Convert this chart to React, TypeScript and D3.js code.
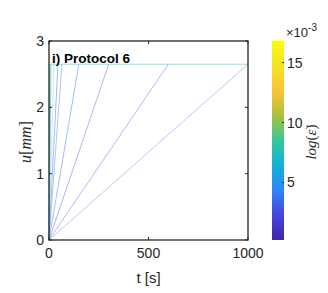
import * as d3 from "d3";
import React, { useEffect, useRef } from "react";

// end time of each ramp (s); all ramps reach uMax then hold
const rampEnds = [4, 10, 25, 45, 65, 150, 300, 600, 1000];
const rampColors = ["#3fc98e", "#4cc3c4", "#a9dcf2", "#6aa6f2", "#82b0f2", "#78a2f4", "#8a98f6", "#9a9af7", "#a8a8f9"];
const uMax = 2.65;
const tMax = 1000;
const xTicks = [0, 500, 1000];
const yTicks = [0, 1, 2, 3];
const cbarTicks = [5, 10, 15];
const cbarDomain = [0.2, 16.8];
const parula = ["#3e26a8", "#4742e0", "#2e87f7", "#12b1d6", "#37c899", "#acbf3a", "#fec238", "#f4e51f", "#f9fb15"];

const App = () => {
  const ref = useRef(null);

  useEffect(() => {
    const svg = d3.select(ref.current);
    svg.selectAll("*").remove();

    const left = 49, right = 248, top = 41, bottom = 240;
    const x = d3.scaleLinear().domain([0, tMax]).range([left, right]);
    const y = d3.scaleLinear().domain([0, 3]).range([bottom, top]);
    const font = "Liberation Sans, Arial, sans-serif";
    const serif = "Liberation Serif, DejaVu Serif, serif";

    const line = d3.line().x((d) => x(d[0])).y((d) => y(d[1]));
    const g = svg.append("g");
    // hold segment at uMax, then ramps
    g.append("line")
      .attr("x1", x(rampEnds[0])).attr("x2", x(tMax))
      .attr("y1", y(uMax)).attr("y2", y(uMax))
      .attr("stroke", "#8fe0e0").attr("stroke-width", 1);
    rampEnds.forEach((te, i) => {
      g.append("path")
        .attr("d", line([[0, 0], [te, uMax]]))
        .attr("fill", "none")
        .attr("stroke", rampColors[i])
        .attr("stroke-width", 0.7);
    });

    // frame
    svg.append("rect")
      .attr("x", left).attr("y", top)
      .attr("width", right - left).attr("height", bottom - top)
      .attr("fill", "none").attr("stroke", "#262626").attr("stroke-width", 1.3);

    const tl = 3;
    xTicks.forEach((t) => {
      svg.append("line").attr("x1", x(t)).attr("x2", x(t)).attr("y1", bottom).attr("y2", bottom - tl).attr("stroke", "#262626");
      svg.append("line").attr("x1", x(t)).attr("x2", x(t)).attr("y1", top).attr("y2", top + tl).attr("stroke", "#262626");
      svg.append("text").attr("x", x(t)).attr("y", bottom + 18).attr("text-anchor", "middle")
        .attr("font-family", font).attr("font-size", 14).attr("fill", "#262626").text(t);
    });
    yTicks.forEach((t) => {
      svg.append("line").attr("x1", left).attr("x2", left + tl).attr("y1", y(t)).attr("y2", y(t)).attr("stroke", "#262626");
      svg.append("line").attr("x1", right).attr("x2", right - tl).attr("y1", y(t)).attr("y2", y(t)).attr("stroke", "#262626");
      svg.append("text").attr("x", left - 5).attr("y", y(t) + 5).attr("text-anchor", "end")
        .attr("font-family", font).attr("font-size", 14).attr("fill", "#262626").text(t);
    });

    svg.append("text").attr("x", (left + right) / 2).attr("y", 283).attr("text-anchor", "middle")
      .attr("font-family", font).attr("font-size", 15).attr("fill", "#262626").text("t [s]");

    const yl = svg.append("text")
      .attr("transform", `translate(31,142) rotate(-90)`)
      .attr("text-anchor", "middle")
      .attr("font-family", serif)
      .attr("font-size", 16).attr("fill", "#262626");
    yl.append("tspan").attr("font-style", "italic").text("u");
    yl.append("tspan").text("[");
    yl.append("tspan").attr("font-style", "italic").text("mm");
    yl.append("tspan").text("]");

    svg.append("text").attr("x", 52).attr("y", 63)
      .attr("font-family", font).attr("font-weight", "bold").attr("font-size", 13.5).attr("fill", "#000")
      .text("i) Protocol 6");

    // colorbar
    const cx = 272, cw = 12;
    const cy = d3.scaleLinear().domain(cbarDomain).range([bottom, top]);
    const defs = svg.append("defs");
    const grad = defs.append("linearGradient").attr("id", "parula")
      .attr("x1", 0).attr("y1", 1).attr("x2", 0).attr("y2", 0);
    parula.forEach((c, i) => {
      grad.append("stop").attr("offset", i / (parula.length - 1)).attr("stop-color", c);
    });
    svg.append("rect").attr("x", cx).attr("y", top).attr("width", cw).attr("height", bottom - top)
      .attr("fill", "url(#parula)");
    cbarTicks.forEach((t) => {
      svg.append("line").attr("x1", cx + cw).attr("x2", cx + cw - 2).attr("y1", cy(t)).attr("y2", cy(t)).attr("stroke", "#262626");
      svg.append("text").attr("x", cx + cw + 3).attr("y", cy(t) + 5)
        .attr("font-family", font).attr("font-size", 14).attr("fill", "#262626").text(t);
    });
    const exp = svg.append("text").attr("x", 286).attr("y", 37)
      .attr("font-family", font).attr("font-size", 13).attr("fill", "#262626");
    exp.append("tspan").text("×10");
    exp.append("tspan").attr("dy", -6).attr("font-size", 10).text("-3");

    const cl = svg.append("text")
      .attr("transform", `translate(316,142) rotate(-90)`)
      .attr("text-anchor", "middle")
      .attr("font-family", serif)
      .attr("font-size", 15).attr("fill", "#262626");
    cl.append("tspan").attr("font-style", "italic").text("log");
    cl.append("tspan").text("(");
    cl.append("tspan").attr("font-style", "italic").text("ε̇");
    cl.append("tspan").text(")");
  }, []);

  return <svg ref={ref} width={328} height={293} style={{ position: "absolute", left: 0, top: 0, background: "#fff" }} />;
};

export default App;
